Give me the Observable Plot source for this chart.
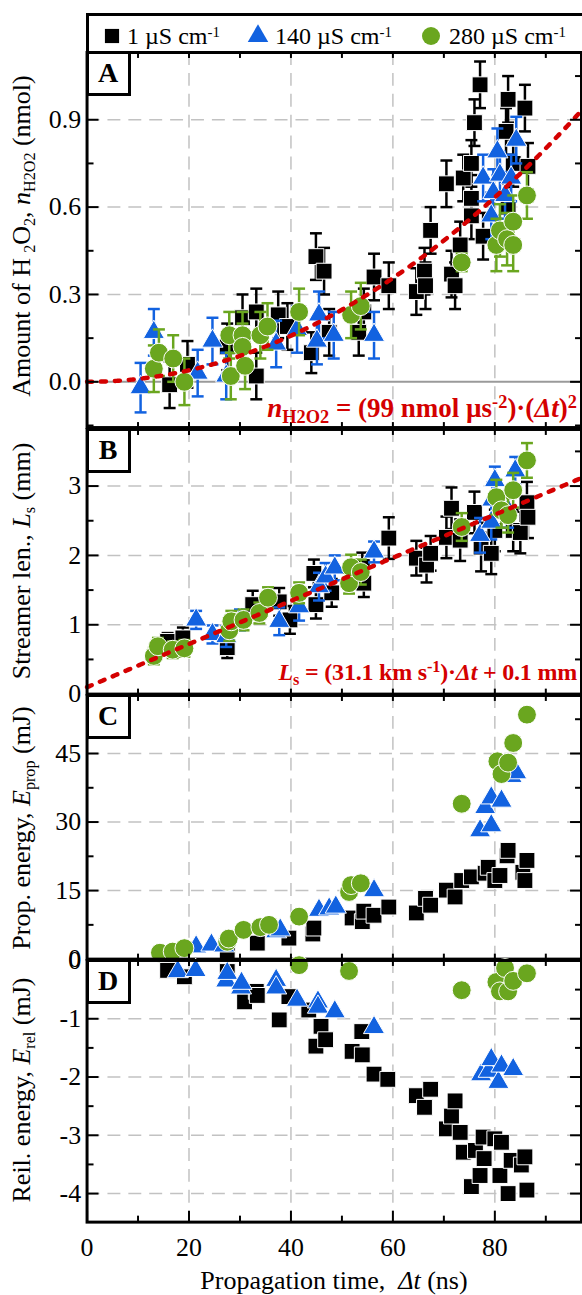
<!DOCTYPE html>
<html>
<head>
<meta charset="utf-8">
<script src="https://cdn.jsdelivr.net/npm/d3@7"></script>
<script src="https://cdn.jsdelivr.net/npm/@observablehq/plot@0.6"></script>
<style>
  html, body { margin:0; padding:0; background:#fff; overflow:hidden; }
  #root { position:relative; width:582px; height:1295px; overflow:hidden; font-family:"Liberation Serif","Times New Roman",serif; color:#000; }
  #root > svg { position:absolute; left:0; }
  .abs { position:absolute; white-space:nowrap; line-height:1; }
  sub, sup { font-size:0.62em; line-height:0; }
  sub { vertical-align:-0.32em; }
  sup { vertical-align:0.5em; }
  .ytitle { font-size:26px; transform:translate(-50%,-50%) rotate(-90deg); }
  .letter { position:absolute; box-sizing:border-box; border:3px solid #000; background:#fff; font-weight:bold; font-size:28px; display:flex; align-items:center; justify-content:center; line-height:1; }
  .eq { color:#d40000; font-weight:bold; }
  .eq sub, .eq sup { font-size:0.68em; }
</style>
</head>
<body>
<div id="root"></div>
<script>
// ---------------- data (Δt in ns, value, error) ----------------
const seriesKeys = ["1", "140", "280"];
const seriesNames = ["1 µS cm<sup>-1</sup>", "140 µS cm<sup>-1</sup>", "280 µS cm<sup>-1</sup>"];
const seriesColors = ["#000000", "#1262e0", "#6aa61f"];
const seriesSymbols = ["square", "triangle", "circle"];

// Panel A: amount of H2O2 (nmol)
const h2o2_1 = [
  [16.2,-0.01,0.08],[19.7,0.06,0.08],[27.5,0.12,0.08],[30.5,0.22,0.08],[33.2,0.02,0.08],
  [33.2,0.24,0.08],[37.5,0.23,0.08],[39.3,0.19,0.08],[44.0,0.10,0.07],[44.9,0.43,0.08],
  [46.5,0.38,0.08],[47.5,0.17,0.08],[53.3,0.17,0.08],[54.3,0.24,0.08],[56.3,0.36,0.08],
  [59.2,0.33,0.08],[64.6,0.31,0.08],[66.2,0.38,0.08],[66.4,0.33,0.08],[67.4,0.52,0.08],
  [70.5,0.68,0.08],[71.5,0.37,0.08],[72.2,0.33,0.08],[73.2,0.47,0.08],[73.8,0.70,0.08],
  [75.4,0.75,0.08],[75.4,0.63,0.08],[75.4,0.57,0.08],[76.0,0.89,0.08],[77.1,1.02,0.08],
  [77.7,0.50,0.08],[82.2,0.86,0.08],[82.6,0.97,0.08],[82.6,0.60,0.08],[83.6,0.75,0.08],
  [85.9,0.94,0.08],[86.5,0.74,0.08]
];
const h2o2_140 = [
  [10.5,-0.02,0.085],[13.1,0.17,0.08],[21.7,0.03,0.08],[24.6,0.14,0.08],[27.3,0.02,0.08],
  [37.1,0.13,0.08],[41.2,0.18,0.08],[45.1,0.14,0.08],[45.5,0.23,0.08],[48.4,0.16,0.08],
  [56.3,0.16,0.08],[77.7,0.70,0.08],[79.3,0.57,0.08],[79.7,0.65,0.08],[80.5,0.79,0.08],
  [81.0,0.71,0.08],[82.0,0.64,0.08],[83.2,0.70,0.08],[84.2,0.83,0.08]
];
const h2o2_280 = [
  [13.1,0.045,0.08],[14.1,0.10,0.08],[16.9,0.08,0.08],[19.1,0.00,0.08],[27.9,0.16,0.08],
  [28.2,0.02,0.08],[30.5,0.16,0.08],[30.5,0.12,0.08],[31.0,0.055,0.08],[34.0,0.16,0.08],
  [35.4,0.19,0.08],[41.6,0.24,0.08],[51.8,0.23,0.08],[53.7,0.26,0.08],[73.5,0.41,0.03],
  [80.3,0.47,0.09],[81.0,0.52,0.09],[82.4,0.49,0.09],[83.6,0.47,0.09],[83.6,0.55,0.09],
  [86.3,0.64,0.08]
];

// Panel B: streamer length (mm)
const len_1 = [
  [15.8,0.76,0.12],[18.8,0.81,0.15],[27.5,0.67,0.15],[32.5,1.29,0.2],[37.7,1.33,0.2],
  [39.8,1.07,0.2],[44.5,1.74,0.2],[44.9,1.29,0.2],[48.0,1.46,0.2],[54.0,1.84,0.2],
  [54.3,1.60,0.2],[59.2,2.25,0.3],[64.6,1.96,0.25],[66.6,1.86,0.25],[67.4,2.03,0.25],
  [70.5,2.26,0.3],[71.5,2.68,0.3],[73.2,2.22,0.3],[76.0,2.62,0.3],[77.3,2.12,0.35],
  [79.3,2.03,0.3],[80.0,2.36,0.3],[83.6,2.36,0.3],[85.0,2.33,0.3],[86.3,2.76,0.3],
  [86.5,2.55,0.3]
];
const len_140 = [
  [21.4,1.07,0.13],[24.6,0.86,0.13],[27.3,0.83,0.15],[30.0,1.07,0.15],[37.7,1.05,0.2],
  [41.6,1.26,0.2],[45.5,1.55,0.2],[46.8,1.69,0.2],[48.6,1.82,0.18],[56.3,2.05,0.15],
  [77.1,2.29,0.25],[79.3,2.48,0.25],[79.5,2.80,0.25],[80.0,3.08,0.2],[82.6,2.65,0.25],
  [84.0,3.22,0.2]
];
const len_280 = [
  [13.1,0.55,0.12],[13.9,0.69,0.12],[16.8,0.64,0.12],[19.1,0.66,0.12],[27.9,0.92,0.15],
  [28.3,1.05,0.15],[30.7,1.07,0.15],[33.8,1.17,0.15],[35.5,1.39,0.15],[41.6,1.46,0.15],
  [51.4,1.60,0.15],[51.8,1.83,0.18],[53.7,1.76,0.18],[73.5,2.41,0.2],[80.3,2.84,0.25],
  [81.3,2.65,0.25],[82.6,2.58,0.25],[83.6,2.94,0.25],[86.3,3.37,0.25]
];

// Panel C: propagation energy (mJ)
const eprop_1 = [
  [16.0,0.5],[27.5,1.7],[33.4,3.5],[39.6,4.6],[44.3,5.5],[44.5,6.8],[52.0,9.0],[54.0,8.2],
  [54.3,10.5],[56.3,9.6],[59.2,11.4],[64.6,10.1],[66.4,13.3],[67.4,11.8],[70.5,15.1],
  [72.2,13.6],[73.5,17.2],[75.4,18.0],[78.1,18.8],[78.7,20.1],[80.0,17.2],[81.0,18.3],
  [82.4,22.6],[82.6,23.8],[85.5,19.0],[85.9,17.2],[86.3,21.6]
];
const eprop_140 = [
  [21.4,2.7],[24.4,3.1],[26.9,2.9],[37.1,6.0],[37.9,6.4],[45.5,10.7],[47.5,11.0],[48.8,11.4],
  [56.3,15.0],[77.1,28.1],[78.1,33.2],[79.3,29.2],[79.3,35.3],[81.3,34.6],[83.3,40.0],[84.2,40.8]
];
const eprop_280 = [
  [14.3,1.4],[16.8,1.65],[19.1,2.4],[27.5,3.8],[27.8,4.5],[30.7,6.4],[34.0,7.0],[35.7,7.5],
  [41.6,9.3],[51.4,14.7],[51.8,16.2],[53.7,16.6],[73.5,34.0],[80.5,43.3],[81.3,40.5],
  [82.6,43.0],[83.6,47.3],[86.3,53.5]
];

// Panel D: released energy (mJ)
const erel_1 = [
  [15.8,-0.17],[19.1,-0.28],[27.5,-0.19],[30.9,-0.71],[33.2,-0.53],[33.4,-0.60],[37.7,-1.02],
  [39.6,-0.62],[43.5,-0.85],[44.9,-1.47],[45.9,-1.13],[46.8,-1.36],[52.0,-1.56],[53.9,-1.22],
  [54.0,-1.62],[56.3,-1.95],[59.0,-2.04],[64.6,-2.32],[66.2,-2.52],[67.4,-2.21],[70.5,-2.89],
  [71.5,-2.67],[72.2,-2.41],[73.2,-2.95],[73.8,-3.29],[75.4,-3.88],[76.2,-3.26],[77.1,-3.69],
  [77.7,-3.03],[77.9,-3.40],[80.0,-3.06],[81.0,-3.69],[81.3,-3.12],[82.6,-4.00],[83.2,-3.43],
  [85.2,-3.51],[85.9,-3.37],[86.3,-3.94]
];
const erel_140 = [
  [17.8,-0.19],[21.3,-0.17],[27.3,-0.35],[27.5,-0.22],[30.2,-0.47],[30.3,-0.39],[37.1,-0.34],
  [37.1,-0.47],[41.2,-0.68],[45.3,-0.71],[45.3,-0.80],[48.6,-0.88],[56.3,-1.15],[77.3,-1.96],
  [78.8,-1.90],[79.3,-1.70],[80.7,-2.09],[81.3,-1.81],[83.6,-1.87]
];
const erel_280 = [
  [41.6,-0.08],[51.4,-0.18],[73.5,-0.51],[80.3,-0.37],[81.0,-0.53],[82.0,-0.13],[82.6,-0.53],
  [83.6,-0.35],[86.3,-0.22]
];

// fit models stated on the chart
const fitH2O2 = 99;      // nmol µs^-2
const fitSpeed = 31.1;   // km s^-1  (= mm/µs)
const fitOffset = 0.1;   // mm
const fitTimes = d3.range(0, 97.25, 0.25);

// axis ticks
const xDomain = [0, 97];
const xMajor = [0, 20, 40, 60, 80];
const xMinor = [10, 30, 50, 70, 90];
const xGrid = [20, 40, 60, 80];

// ---------------- drawing ----------------
const root = document.getElementById("root");
const FL = 87, SVGW = 585, MR = 1;
const capSymbol = { draw(ctx, size) { const r = Math.sqrt(size / Math.PI); ctx.moveTo(-r, 0); ctx.lineTo(r, 0); } };
const symR = { square: 9, triangle: 7.9, circle: 9.5 };
const FONT = '"Liberation Serif","Times New Roman",serif';

function panel(cfg) {
  const mt = 3, mb = cfg.xLabels ? 70 : 3;
  const height = (cfg.bottom - cfg.top) + mt + mb;
  const marks = [
    Plot.gridX(xGrid, {stroke: "#c2c2c2", strokeOpacity: 1, strokeWidth: 1.5, strokeDasharray: "13,8"}),
    Plot.gridY(cfg.yGrid, {stroke: "#c2c2c2", strokeOpacity: 1, strokeWidth: 1.5, strokeDasharray: "13,8"})
  ];
  if (cfg.zero) marks.push(Plot.ruleY([0], {stroke: "#9a9a9a", strokeWidth: 2}));
  cfg.data.forEach((ser, i) => {
    const color = seriesColors[i];
    if (cfg.errors) {
      marks.push(Plot.ruleX(ser, {x: d => d[0], y1: d => d[1] - d[2], y2: d => d[1] + d[2], stroke: color, strokeWidth: 2.5}));
      marks.push(Plot.dot(ser, {x: d => d[0], y: d => d[1] + d[2], symbol: capSymbol, r: 6, stroke: color, strokeWidth: 2.5, fill: "none"}));
      marks.push(Plot.dot(ser, {x: d => d[0], y: d => d[1] - d[2], symbol: capSymbol, r: 6, stroke: color, strokeWidth: 2.5, fill: "none"}));
    }
    marks.push(Plot.dot(ser, {x: d => d[0], y: d => d[1], symbol: seriesSymbols[i], r: symR[seriesSymbols[i]], fill: color, stroke: "#fff", strokeWidth: 1}));
  });
  if (cfg.fit) marks.push(Plot.line(fitTimes, {x: t => t, y: cfg.fit, stroke: "#d40000", strokeWidth: 4.5, strokeDasharray: "5,9", strokeLinecap: "round"}));
  marks.push(Plot.frame({stroke: "#000", strokeWidth: 3}));
  // y ticks (inward, both sides)
  marks.push(Plot.axisY(cfg.yMajor, {anchor: "left", tickSize: 12, dx: 12, fill: "none", stroke: "#000", strokeWidth: 2, label: null}));
  marks.push(Plot.axisY(cfg.yMinor, {anchor: "left", tickSize: 7, dx: 7, fill: "none", stroke: "#000", strokeWidth: 2, label: null}));
  marks.push(Plot.axisY(cfg.yMajor, {anchor: "right", tickSize: 12, dx: -12, fill: "none", stroke: "#000", strokeWidth: 2, label: null}));
  marks.push(Plot.axisY(cfg.yMinor, {anchor: "right", tickSize: 7, dx: -7, fill: "none", stroke: "#000", strokeWidth: 2, label: null}));
  marks.push(Plot.axisY(cfg.yMajor, {anchor: "left", tickSize: 0, tickPadding: 6, tickFormat: cfg.fmt, fontSize: 26, fill: "#000", label: null}));
  // x ticks
  const xAll = xMajor.concat(xMinor);
  marks.push(Plot.axisX(xAll, {anchor: "top", tickSize: 5, dy: 5, fill: "none", stroke: "#000", strokeWidth: 2, label: null}));
  if (cfg.xLabels) {
    marks.push(Plot.axisX(xMajor, {anchor: "bottom", tickSize: 11, dy: -11, fill: "none", stroke: "#000", strokeWidth: 2, label: null}));
    marks.push(Plot.axisX(xMinor, {anchor: "bottom", tickSize: 6, dy: -6, fill: "none", stroke: "#000", strokeWidth: 2, label: null}));
    marks.push(Plot.axisX(xMajor, {anchor: "bottom", tickSize: 0, tickPadding: 16, fontSize: 26, fill: "#000", label: null}));
  } else {
    marks.push(Plot.axisX(xAll, {anchor: "bottom", tickSize: 5, dy: -5, fill: "none", stroke: "#000", strokeWidth: 2, label: null}));
  }
  const svg = Plot.plot({
    width: SVGW, height, marginLeft: FL, marginRight: MR, marginTop: mt, marginBottom: mb,
    x: {domain: xDomain, axis: null},
    y: {domain: cfg.yDomain, axis: null},
    style: {background: "transparent", overflow: "visible", fontFamily: FONT, color: "#000"},
    marks
  });
  svg.style.top = (cfg.top - mt) + "px";
  root.appendChild(svg);

  // panel letter box
  const b = document.createElement("div");
  b.className = "letter";
  Object.assign(b.style, {left: (FL - 1.5) + "px", top: (cfg.top - 1.5) + "px", width: "45px", height: "45px"});
  b.textContent = cfg.letter;
  root.appendChild(b);

  // y title
  const t = document.createElement("div");
  t.className = "abs ytitle";
  Object.assign(t.style, {left: "22px", top: cfg.titleY + "px"});
  t.innerHTML = cfg.title;
  root.appendChild(t);
}

const fmt1 = d => d.toFixed(1);
const fmt0 = d => String(d);

panel({letter: "A", top: 52, bottom: 429, yDomain: [-0.157, 1.131], yMajor: [0, 0.3, 0.6, 0.9], yMinor: [-0.15, 0.15, 0.45, 0.75, 1.05],
  yGrid: [0.3, 0.6, 0.9], fmt: fmt1, data: [h2o2_1, h2o2_140, h2o2_280], errors: true, zero: true,
  fit: t => fitH2O2 * (t / 1000) ** 2, titleY: 236,
  title: "Amount of H&thinsp;<sub>2</sub>O<sub>2</sub>, <i>n</i><sub>H2O2</sub> (nmol)"});
panel({letter: "B", top: 429, bottom: 695, yDomain: [0, 3.816], yMajor: [0, 1, 2, 3], yMinor: [0.5, 1.5, 2.5, 3.5],
  yGrid: [1, 2, 3], fmt: fmt0, data: [len_1, len_140, len_280], errors: true,
  fit: t => fitSpeed * (t / 1000) + fitOffset, titleY: 561,
  title: "Streamer len., <i>L</i><sub>s</sub> (mm)"});
panel({letter: "C", top: 695, bottom: 960, yDomain: [0, 57.7], yMajor: [0, 15, 30, 45], yMinor: [7.5, 22.5, 37.5, 52.5],
  yGrid: [15, 30, 45], fmt: fmt0, data: [eprop_1, eprop_140, eprop_280], titleY: 828,
  title: "Prop. energy, <i>E</i><sub>prop</sub> (mJ)"});
panel({letter: "D", top: 960, bottom: 1223, yDomain: [-4.49, 0], yMajor: [0, -1, -2, -3, -4], yMinor: [-0.5, -1.5, -2.5, -3.5],
  yGrid: [-1, -2, -3, -4], fmt: fmt0, data: [erel_1, erel_140, erel_280], xLabels: true, titleY: 1090,
  title: "Reil. energy, <i>E</i><sub>rel</sub> (mJ)"});

// equations
function addDiv(cls, style, html) {
  const d = document.createElement("div");
  d.className = cls; Object.assign(d.style, style); d.innerHTML = html; root.appendChild(d); return d;
}
addDiv("abs eq", {right: "5px", top: "395px", fontSize: "27px"}, "<i>n</i><sub>H2O2</sub> = (99 nmol µs<sup>-2</sup>)·(<i>Δt</i>)<sup>2</sup>");
addDiv("abs eq", {right: "5px", top: "660px", fontSize: "24px", letterSpacing: "-0.2px"}, "<i>L</i><sub>s</sub> = (31.1 km s<sup>-1</sup>)·<i>Δt</i> + 0.1 mm");

// x title
addDiv("abs", {left: "334px", top: "1268px", fontSize: "26px", transform: "translateX(-50%)"}, "Propagation time,&nbsp; <i>Δt</i> (ns)");

// legend
addDiv("abs", {left: "85.5px", top: "12.5px", width: "520px", height: "41px", border: "3px solid #000", boxSizing: "border-box", background: "#fff"}, "");
const legendSym = [112, 258, 431];
const legendText = [127, 275, 449];
seriesKeys.forEach((k, i) => {
  const ns = "http://www.w3.org/2000/svg";
  const s = document.createElementNS(ns, "svg");
  s.setAttribute("width", 26); s.setAttribute("height", 26);
  Object.assign(s.style, {position: "absolute", left: (legendSym[i] - 13) + "px", top: (36 - 13) + "px"});
  const p = document.createElementNS(ns, "path");
  const typ = {square: d3.symbolSquare, triangle: d3.symbolTriangle, circle: d3.symbolCircle}[seriesSymbols[i]];
  const r = seriesSymbols[i] === "square" ? 8 : seriesSymbols[i] === "triangle" ? 7.6 : 9;
  p.setAttribute("d", d3.symbol(typ, Math.PI * r * r)());
  p.setAttribute("transform", "translate(13,13)");
  p.setAttribute("fill", seriesColors[i]);
  s.appendChild(p);
  root.appendChild(s);
  addDiv("abs", {left: legendText[i] + "px", top: "24px", fontSize: "24px"}, seriesNames[i]);
});
</script>
</body>
</html>
